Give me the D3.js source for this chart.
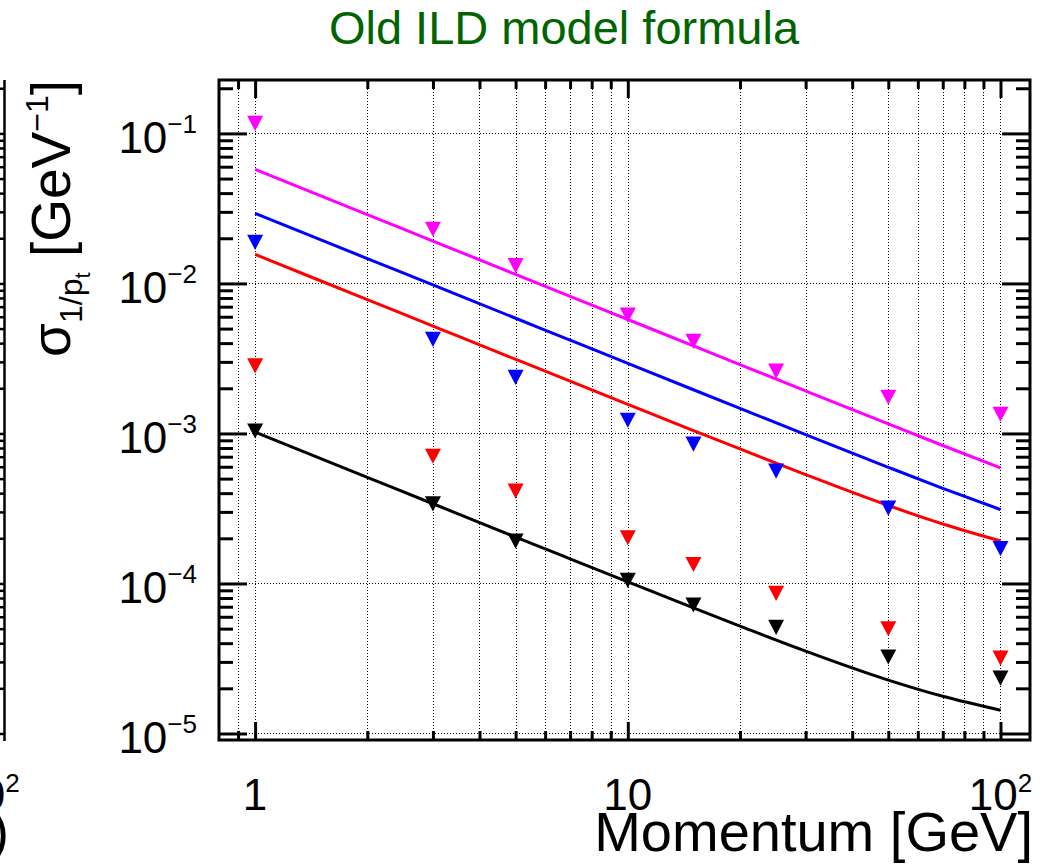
<!DOCTYPE html>
<html>
<head>
<meta charset="utf-8">
<script src="https://cdn.jsdelivr.net/npm/d3@7"></script>
<style>
  body { margin: 0; background: #fff; }
  svg { display: block; }
  text { font-family: "Liberation Sans", Arial, Helvetica, sans-serif; fill: #000; }
</style>
</head>
<body>
<svg id="chart" width="1047" height="865"></svg>
<script>
// Momentum points of the simulated tracks [GeV]
const momenta = [1, 3, 5, 10, 15, 25, 50, 100];

// Resolution sigma(1/pt) [GeV^-1] per track sample
const sigmaBlack   = [1.04e-3, 3.4e-4, 1.92e-4, 1.05e-4, 7.2e-5, 5.1e-5, 3.24e-5, 2.34e-5];
const sigmaRed     = [2.83e-3, 7.06e-4, 4.13e-4, 2.02e-4, 1.34e-4, 8.6e-5, 5.0e-5, 3.18e-5];
const sigmaBlue    = [1.88e-2, 4.25e-3, 2.37e-3, 1.227e-3, 8.49e-4, 5.62e-4, 3.18e-4, 1.71e-4];
const sigmaMagenta = [0.117, 2.30e-2, 1.315e-2, 6.15e-3, 4.12e-3, 2.61e-3, 1.746e-3, 1.345e-3];

// Model formula curves, sampled along momentum
const curveMomenta = [1, 2, 3, 5, 7, 10, 15, 20, 30, 50, 70, 100];
const curveBlack   = [1.02e-3, 5.10e-4, 3.40e-4, 2.04e-4, 1.46e-4, 1.025e-4, 6.87e-5, 5.20e-5, 3.54e-5, 2.27e-5, 1.77e-5, 1.43e-5];
const curveRed     = [1.56e-2, 7.80e-3, 5.20e-3, 3.12e-3, 2.23e-3, 1.564e-3, 1.046e-3, 7.88e-4, 5.32e-4, 3.31e-4, 2.49e-4, 1.92e-4];
const curveBlue    = [2.93e-2, 1.465e-2, 9.77e-3, 5.86e-3, 4.19e-3, 2.932e-3, 1.956e-3, 1.469e-3, 9.82e-4, 5.95e-4, 4.31e-4, 3.11e-4];
const curveMagenta = [5.75e-2, 2.875e-2, 1.917e-2, 1.15e-2, 8.21e-3, 5.75e-3, 3.835e-3, 2.878e-3, 1.921e-3, 1.157e-3, 8.31e-4, 5.89e-4];

// Axis tick labels
const xTickLabels = [{v: 1, base: "1", exp: ""}, {v: 10, base: "10", exp: ""}, {v: 100, base: "10", exp: "2"}];
const yTickLabels = [{v: 1e-1, exp: "\u22121"}, {v: 1e-2, exp: "\u22122"}, {v: 1e-3, exp: "\u22123"}, {v: 1e-4, exp: "\u22124"}, {v: 1e-5, exp: "\u22125"}];

const titleText = "Old ILD model formula";
const xTitle = "Momentum [GeV]";

const series = [
  {pts: sigmaBlack,   fit: curveBlack,   color: "#000000"},
  {pts: sigmaRed,     fit: curveRed,     color: "#ff0000"},
  {pts: sigmaBlue,    fit: curveBlue,    color: "#0000ff"},
  {pts: sigmaMagenta, fit: curveMagenta, color: "#ff00ff"}
];

const svg = d3.select("#chart");
const L = 219, R = 1030, T = 80, B = 740;

const x = d3.scaleLog().domain([0.8, 120]).range([L, R]);
const y = d3.scaleLog().domain([9.05e-6, 0.227]).range([B, T]);

// tick values
const xMinor = [0.8, 0.9, 2, 3, 4, 5, 6, 7, 8, 9, 20, 30, 40, 50, 60, 70, 80, 90];
const xMajor = [1, 10, 100];
const yMajor = [1e-5, 1e-4, 1e-3, 1e-2, 1e-1];
const yMinor = [];
for (let e = -6; e <= -1; e++) {
  for (let k = 2; k <= 9; k++) {
    const v = k * Math.pow(10, e);
    if (v >= 9.05e-6 && v <= 0.227) yMinor.push(v);
  }
}
const xGrid = xMinor.filter(v => v > 0.8).concat(xMajor);

// ---- neighbouring panel edge on the far left ----
const side = svg.append("g");
side.append("line").attr("x1", 4.5).attr("x2", 4.5).attr("y1", T).attr("y2", B + 1)
  .attr("stroke", "#000").attr("stroke-width", 2.5);
side.append("g").attr("transform", "translate(4.5,0)")
  .call(d3.axisLeft(y).tickValues(yMinor.concat(yMajor)).tickSize(8).tickFormat(""))
  .call(g => g.select(".domain").remove())
  .selectAll("line").attr("stroke-width", 2.5);
side.append("text").attr("x", -12).attr("y", 810).attr("text-anchor", "middle")
  .style("font-size", "44px")
  .call(t => { t.append("tspan").text("10"); t.append("tspan").attr("dy", -18).style("font-size", "26px").text("2"); });
side.append("text").attr("x", 9).attr("y", 850).attr("text-anchor", "end")
  .style("font-size", "54px").text(")");

// ---- grid ----
const grid = svg.append("g").attr("stroke", "#000").attr("stroke-width", 1).attr("stroke-dasharray", "1,2");
grid.selectAll("line.gx").data(xGrid).join("line").attr("class", "gx")
  .attr("x1", d => Math.round(x(d)) + 0.5).attr("x2", d => Math.round(x(d)) + 0.5)
  .attr("y1", T).attr("y2", B);
grid.selectAll("line.gy").data(yMajor).join("line").attr("class", "gy")
  .attr("x1", L).attr("x2", R)
  .attr("y1", d => Math.round(y(d)) + 0.5).attr("y2", d => Math.round(y(d)) + 0.5);

// ---- model curves ----
const plot = svg.append("g");
const line = d3.line().x((d, i) => x(curveMomenta[i])).y(d => y(d)).curve(d3.curveMonotoneX);
series.slice().reverse().forEach(s => {
  plot.append("path").datum(s.fit).attr("d", line)
    .attr("fill", "none").attr("stroke", s.color).attr("stroke-width", 3);
});

// ---- markers (full triangles pointing down) ----
const tri = "M-8,-7.5L8,-7.5L0,7.7Z";
series.forEach(s => {
  plot.selectAll(null).data(s.pts).join("path")
    .attr("d", tri)
    .attr("transform", (d, i) => `translate(${x(momenta[i])},${y(d)})`)
    .attr("fill", s.color);
});

// ---- axes: ticks on all four sides ----
function ticks(axis, tx, ty, vals, size) {
  svg.append("g").attr("transform", `translate(${tx},${ty})`)
    .call(axis.tickValues(vals).tickSize(size).tickFormat(""))
    .call(g => g.select(".domain").remove())
    .selectAll("line").attr("stroke", "#000").attr("stroke-width", 3);
}
ticks(d3.axisRight(y), L, 0, yMinor, 14);
ticks(d3.axisRight(y), L, 0, yMajor, 28);
ticks(d3.axisLeft(y), R, 0, yMinor, 14);
ticks(d3.axisLeft(y), R, 0, yMajor, 28);
ticks(d3.axisTop(x), 0, B, xMinor.filter(v => v > 0.8), 9);
ticks(d3.axisTop(x), 0, B, xMajor, 18);
ticks(d3.axisBottom(x), 0, T, xMinor.filter(v => v > 0.8), 9);
ticks(d3.axisBottom(x), 0, T, xMajor, 18);

// frame
svg.append("rect").attr("x", L).attr("y", T).attr("width", R - L).attr("height", B - T)
  .attr("fill", "none").attr("stroke", "#000").attr("stroke-width", 3);

// ---- tick labels ----
svg.append("g").selectAll("text").data(yTickLabels).join("text")
  .attr("x", 197).attr("y", d => y(d.v) + 20).attr("text-anchor", "end")
  .style("font-size", "44px")
  .each(function (d) {
    const t = d3.select(this);
    t.append("tspan").text("10");
    t.append("tspan").attr("dy", -20).style("font-size", "26px").text(d.exp);
  });

svg.append("g").selectAll("text").data(xTickLabels).join("text")
  .attr("x", d => x(d.v)).attr("y", 810).attr("text-anchor", "middle")
  .style("font-size", "44px")
  .each(function (d) {
    const t = d3.select(this);
    t.append("tspan").text(d.base);
    if (d.exp) t.append("tspan").attr("dy", -18).style("font-size", "26px").text(d.exp);
  });

// ---- titles ----
svg.append("text").attr("x", 564).attr("y", 44).attr("text-anchor", "middle")
  .style("font-size", "47px").style("fill", "#006400").text(titleText);

svg.append("text").attr("x", 1033).attr("y", 851).attr("text-anchor", "end")
  .style("font-size", "56px").text(xTitle);

const yt = svg.append("text").attr("transform", "translate(70,80) rotate(-90)")
  .attr("text-anchor", "end").style("font-size", "55px");
yt.append("tspan").text("\u03c3");
yt.append("tspan").attr("dy", 12).style("font-size", "32px").text("1/p");
yt.append("tspan").attr("dy", 8).style("font-size", "22px").text("t");
yt.append("tspan").attr("dy", -20).text(" [GeV");
yt.append("tspan").attr("dy", -22).style("font-size", "32px").text("\u22121");
yt.append("tspan").attr("dy", 22).text("]");
</script>
</body>
</html>
